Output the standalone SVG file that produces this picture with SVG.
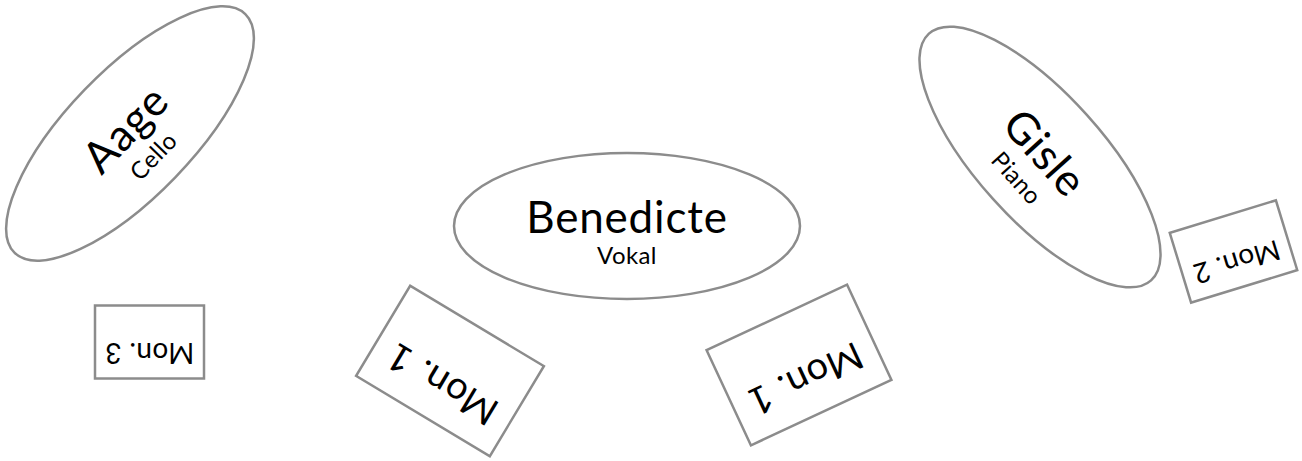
<svg xmlns="http://www.w3.org/2000/svg" width="1302" height="461" viewBox="0 0 1302 461">
<style>
.shape{fill:#fff;stroke:#8c8c8c;stroke-width:2.5}
text{font-family:Lato,"Noto Sans",sans-serif;fill:#000;text-anchor:middle}
.name{font-size:44px;letter-spacing:0.8px}
.inst{font-size:24px;letter-spacing:0.4px}
.mon{font-size:28px;letter-spacing:0.4px}
.monl{font-size:38px;letter-spacing:0.6px}
</style>
<rect width="1302" height="461" fill="#fff"/>
<g id="aage" transform="translate(130,133.5) rotate(-46)">
<ellipse class="shape" rx="166" ry="63"/>
<text class="name" y="9">Aage</text>
<text class="inst" y="41">Cello</text>
</g>
<g id="benedicte" transform="translate(627,226)">
<ellipse class="shape" rx="173" ry="73"/>
<text class="name" y="7">Benedicte</text>
<text class="inst" y="38">Vokal</text>
</g>
<g id="gisle" transform="translate(1040,157) rotate(48)">
<ellipse class="shape" rx="166" ry="63"/>
<text class="name" y="9">Gisle</text>
<text class="inst" y="40">Piano</text>
</g>
<g id="mon3" transform="translate(149.5,342)">
<rect class="shape" x="-54.5" y="-36.5" width="109" height="73"/>
<text class="mon" transform="rotate(180)" y="-1">Mon. 3</text>
</g>
<g id="mon1-left" transform="translate(450,371) rotate(31)">
<rect class="shape" x="-78" y="-52.5" width="156" height="105"/>
<text class="monl" transform="rotate(180)" y="-2">Mon. 1</text>
</g>
<g id="mon1-right" transform="translate(799,365) rotate(-25)">
<rect class="shape" x="-77.5" y="-52.5" width="155" height="105"/>
<text class="monl" transform="rotate(180)" y="-2">Mon. 1</text>
</g>
<g id="mon2" transform="translate(1233.5,251.5) rotate(-17)">
<rect class="shape" x="-55.5" y="-36.5" width="111" height="73"/>
<text class="mon" transform="rotate(180)" y="-1">Mon. 2</text>
</g>
</svg>
